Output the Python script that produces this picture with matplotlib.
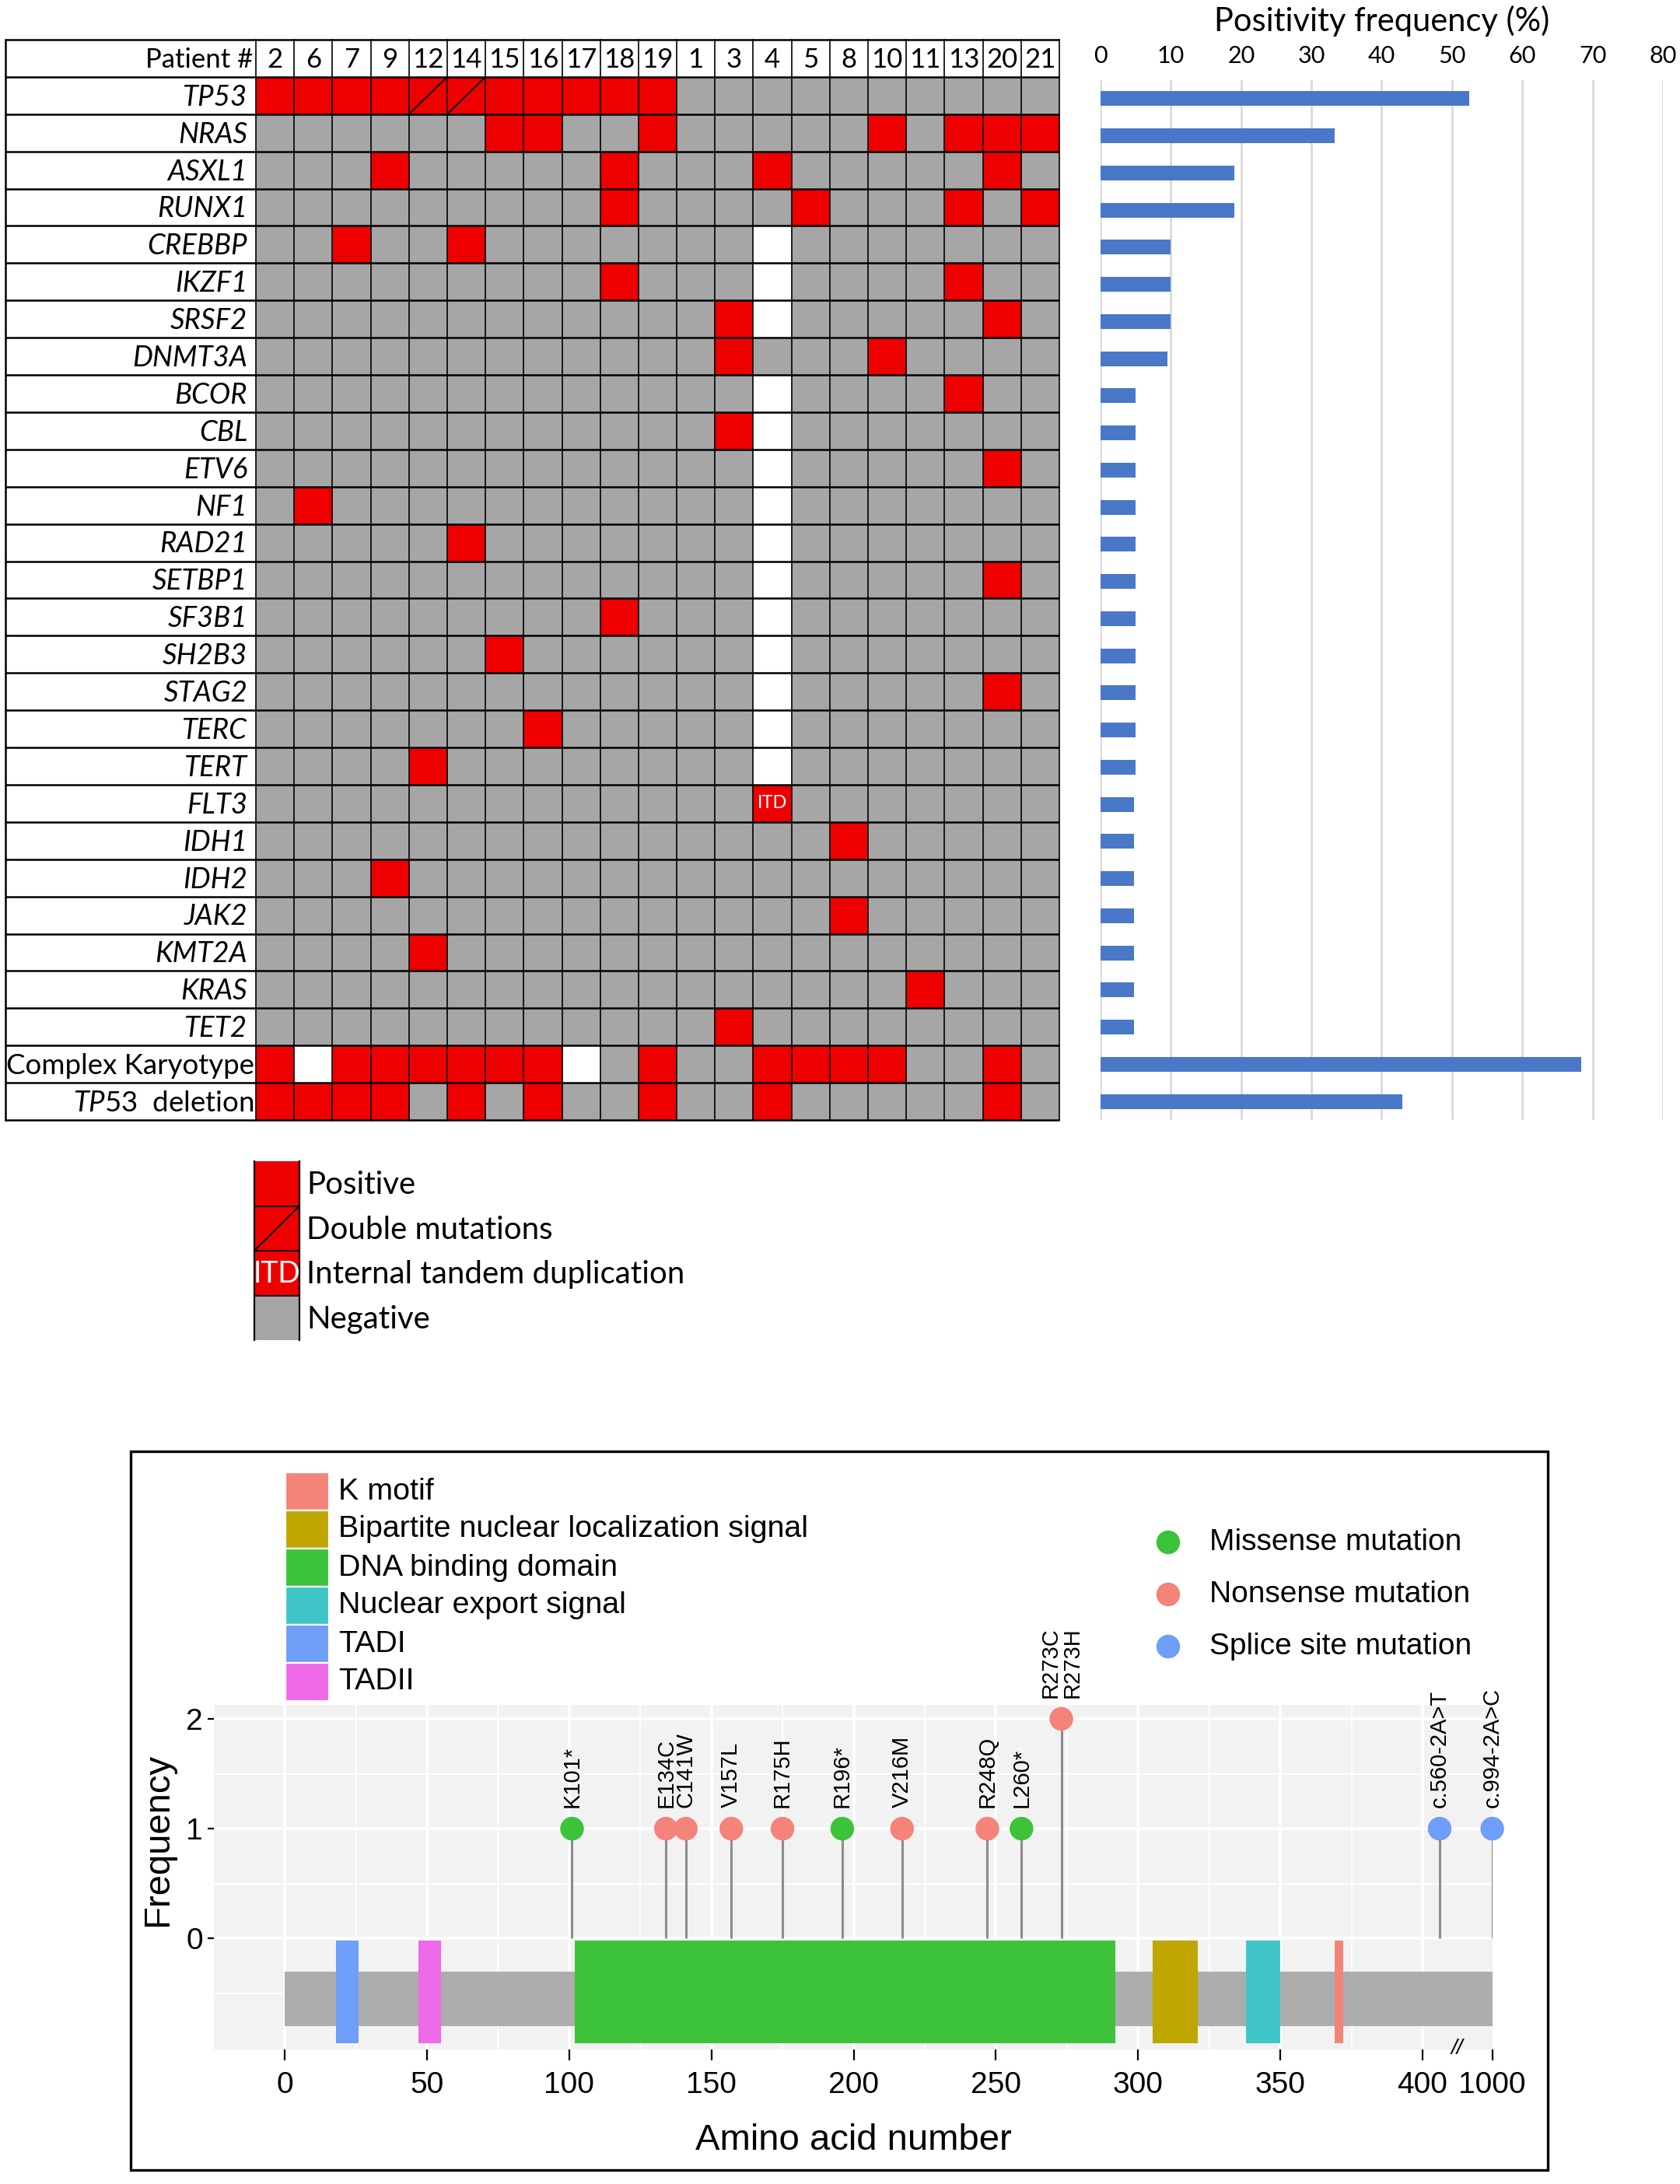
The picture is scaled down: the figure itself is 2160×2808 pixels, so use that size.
import matplotlib
matplotlib.use('Agg')
import matplotlib.pyplot as plt
from matplotlib.patches import Rectangle

# ---- data ----
patients = [2, 6, 7, 9, 12, 14, 15, 16, 17, 18, 19, 1, 3, 4, 5, 8, 10, 11, 13, 20, 21]
genes = ['TP53', 'NRAS', 'ASXL1', 'RUNX1', 'CREBBP', 'IKZF1', 'SRSF2', 'DNMT3A', 'BCOR', 'CBL',
         'ETV6', 'NF1', 'RAD21', 'SETBP1', 'SF3B1', 'SH2B3', 'STAG2', 'TERC', 'TERT', 'FLT3',
         'IDH1', 'IDH2', 'JAK2', 'KMT2A', 'KRAS', 'TET2', 'Complex Karyotype', 'TP53 deletion']
# X positive, / double mutation, I internal tandem dup., . negative, o not tested
status = [
    'XXXX//XXXXX..........',
    '......XX..X.....X.XXX',
    '...X.....X...X.....X.',
    '.........X....X...X.X',
    '..X..X.......o.......',
    '.........X...o....X..',
    '............Xo.....X.',
    '............X...X....',
    '.............o....X..',
    '............Xo.......',
    '.............o.....X.',
    '.X...........o.......',
    '.....X.......o.......',
    '.............o.....X.',
    '.........X...o.......',
    '......X......o.......',
    '.............o.....X.',
    '.......X.....o.......',
    '....X........o.......',
    '.............I.......',
    '...............X.....',
    '...X.................',
    '...............X.....',
    '....X................',
    '.................X...',
    '............X........',
    'XoXXXXXXo.X..XXXX..X.',
    'XXXX.X.X..X..X.....X.',
]
pos_freq = [52.4, 33.3, 19.0, 19.0, 10.0, 10.0, 10.0, 9.5, 5.0, 5.0,
            5.0, 5.0, 5.0, 5.0, 5.0, 5.0, 5.0, 5.0, 5.0, 4.8,
            4.8, 4.8, 4.8, 4.8, 4.8, 4.8, 68.4, 42.9]
freq_ticks = [0, 10, 20, 30, 40, 50, 60, 70, 80]

table_legend = ['Positive', 'Double mutations', 'Internal tandem duplication', 'Negative']
table_legend_kind = ['X', '/', 'I', '.']

# TP53 lollipop (x in plotted axis units, 1000 sits after the break)
mut_labels = ['K101*', 'E134C', 'C141W', 'V157L', 'R175H', 'R196*', 'V216M', 'R248Q', 'L260*',
              'R273C\nR273H', 'c.560-2A>T', 'c.994-2A>C']
mut_pos = [101, 134, 141, 157, 175, 196, 217, 247, 259, 273, 406, 424.5]
mut_freq = [1, 1, 1, 1, 1, 1, 1, 1, 1, 2, 1, 1]
mut_type = ['Missense', 'Nonsense', 'Nonsense', 'Nonsense', 'Nonsense', 'Missense', 'Nonsense',
            'Nonsense', 'Missense', 'Nonsense', 'Splice', 'Splice']

domain_names = ['K motif', 'Bipartite nuclear localization signal', 'DNA binding domain',
                'Nuclear export signal', 'TADI', 'TADII']
domain_start = [369, 305, 102, 338, 18, 47]
domain_end = [372, 321, 292, 350, 26, 55]
protein_end = 424.5
aa_ticks = [0, 50, 100, 150, 200, 250, 300, 350, 400, 424.5]
aa_ticklabels = ['0', '50', '100', '150', '200', '250', '300', '350', '400', '1000']
mut_legend = ['Missense mutation', 'Nonsense mutation', 'Splice site mutation']

# ---- styles ----
W, H, DPI = 2160, 2808, 200
RED = '#EE0000'
GREY = '#A6A6A6'
BLUE = '#4A78C8'
dom_colors = ['#F4837A', '#BFA600', '#3CC339', '#40C6C9', '#6F9EF8', '#EE6AE8']
type_colors = {'Missense': '#3CC339', 'Nonsense': '#F4837A', 'Splice': '#6F9EF8'}
TFONT = 'Lato'
GFONT = 'Liberation Sans'

plt.rcParams['mathtext.fontset'] = 'custom'
plt.rcParams['mathtext.it'] = 'Lato:italic'
plt.rcParams['mathtext.rm'] = 'Lato'


def px_box(x0, y0, x1, y1):
    return [x0 / W, 1 - y1 / H, (x1 - x0) / W, (y1 - y0) / H]


fig = plt.figure(figsize=(W / DPI, H / DPI), dpi=DPI)

# overlay in pixel coords for legends / frame
ov = fig.add_axes([0, 0, 1, 1])
ov.set_xlim(0, W)
ov.set_ylim(H, 0)
ov.axis('off')

# ---- heat table ----
ncol = len(patients)
nrow = len(genes)
lab_w = (329 - 7) / ((1362 - 329) / ncol)
ax = fig.add_axes(px_box(7, 51, 1362, 1440))
ax.set_xlim(-lab_w, ncol)
ax.set_ylim(nrow + 1, 0)
ax.axis('off')

for r, row in enumerate(status):
    y = r + 1
    for c, s in enumerate(row):
        if s == 'o':
            fc = 'white'
        elif s == '.':
            fc = GREY
        else:
            fc = RED
        ax.add_patch(Rectangle((c, y), 1, 1, facecolor=fc, edgecolor='none'))
        if s == '/':
            ax.plot([c, c + 1], [y + 1, y], color='black', lw=0.7)
        if s == 'I':
            ax.text(c + 0.5, y + 0.5, 'ITD', color='white', ha='center', va='center',
                    fontsize=8.5, family=TFONT)

for i in range(nrow + 2):
    ax.plot([-lab_w, ncol], [i, i], color='black', lw=0.9, clip_on=False,
            solid_capstyle='butt')
ax.plot([-lab_w, -lab_w], [0, nrow + 1], color='black', lw=0.9, clip_on=False)
for c in range(ncol + 1):
    ax.plot([c, c], [0, nrow + 1], color='black', lw=0.6, clip_on=False)

ax.text(-0.08, 0.55, 'Patient #', ha='right', va='center', fontsize=12.5, family=TFONT)
for c, p in enumerate(patients):
    ax.text(c + 0.5, 0.55, str(p), ha='center', va='center', fontsize=12.5, family=TFONT)
for r, g in enumerate(genes):
    y = r + 1.55
    if g == 'Complex Karyotype':
        ax.text(-0.05, y, g, ha='right', va='center', fontsize=13.2, family=TFONT)
    elif g == 'TP53 deletion':
        ax.text(-0.05, y, r'$\mathit{TP53}$  deletion', ha='right', va='center',
                fontsize=13.2, family=TFONT)
    else:
        ax.text(-0.22, y, g, ha='right', va='center', fontsize=13.2, family=TFONT,
                style='italic')

# ---- positivity frequency bars ----
axb = fig.add_axes(px_box(1415, 103, 2138, 1440))
axb.barh(range(nrow), pos_freq, height=0.4, color=BLUE, zorder=3)
axb.set_xlim(0, 80)
axb.set_ylim(nrow - 0.5, -0.5)
axb.set_xticks(freq_ticks)
axb.set_yticks([])
axb.xaxis.tick_top()
axb.tick_params(axis='x', length=0, pad=6, labelsize=11)
for lab in axb.get_xticklabels():
    lab.set_family(TFONT)
axb.grid(axis='x', color='#D9D9D9', lw=1.0, zorder=0)
for sp in axb.spines.values():
    sp.set_visible(False)
fig.text(1777 / W, 1 - 27 / H, 'Positivity frequency (%)', ha='center', va='center',
         fontsize=15, family=TFONT)

# ---- table legend ----
lx0, lx1, ly0, lh = 327, 385, 1493, 57.5
for k, (name, kind) in enumerate(zip(table_legend, table_legend_kind)):
    y0 = ly0 + k * lh
    fc = GREY if kind == '.' else RED
    ov.add_patch(Rectangle((lx0, y0), lx1 - lx0, lh, facecolor=fc, edgecolor='none'))
    if kind == '/':
        ov.plot([lx0, lx1], [y0 + lh, y0], color='black', lw=0.7)
    if kind == 'I':
        ov.text((lx0 + lx1) / 2, y0 + lh / 2 + 1, 'ITD', color='white', ha='center',
                va='center', fontsize=13.5, family=TFONT)
    if k > 0:
        ov.plot([lx0, lx1], [y0, y0], color='black', lw=0.7)
    ov.text(394, y0 + lh / 2 + 2, name, ha='left', va='center', fontsize=14.5, family=TFONT)
ov.plot([lx0, lx0], [ly0, ly0 + 4 * lh], color='black', lw=0.8)
ov.plot([lx1, lx1], [ly0, ly0 + 4 * lh], color='black', lw=0.8)

# ---- lollipop panel ----
ov.add_patch(Rectangle((168, 1866), 1990 - 168, 2790 - 1866, facecolor='none',
                       edgecolor='black', lw=1.2))

axp = fig.add_axes(px_box(275, 2192, 1919, 2635))
axp.set_facecolor('#F2F2F2')
axp.set_xlim(-24.9, 424.6)
axp.set_ylim(-1.01, 2.127)
for v in range(0, 401, 25):
    axp.axvline(v, color='white', lw=1.3 if v % 50 == 0 else 0.7, zorder=0)
for v in [0, 1, 2]:
    axp.axhline(v, color='white', lw=1.3, zorder=0)
for v in [-0.5, 0.5, 1.5]:
    axp.axhline(v, color='white', lw=0.7, zorder=0)

axp.bar(0, 0.5, width=protein_end, bottom=-0.8, align='edge', color='#ADADAD', zorder=1)
for s, e, col in zip(domain_start, domain_end, dom_colors):
    axp.bar(s, 0.93, width=e - s, bottom=-0.95, align='edge', color=col, zorder=2)

axp.vlines(mut_pos, 0, mut_freq, color='#8C8C8C', lw=1.1, zorder=3)
axp.scatter(mut_pos, mut_freq, s=120, c=[type_colors[t] for t in mut_type],
            edgecolors='none', zorder=4, clip_on=False)
for p, f, lab in zip(mut_pos, mut_freq, mut_labels):
    axp.text(p, f + 0.19, lab, rotation=90, ha='center', va='bottom', fontsize=10.5,
             family=GFONT, multialignment='left', linespacing=1.0, clip_on=False)

axp.set_xticks(aa_ticks)
axp.set_xticklabels(aa_ticklabels)
axp.set_yticks([0, 1, 2])
axp.tick_params(axis='x', length=5, width=0.8, pad=5, labelsize=14)
axp.tick_params(axis='y', length=3, width=0.8, pad=2, labelsize=14)
for lab in axp.get_xticklabels() + axp.get_yticklabels():
    lab.set_family(GFONT)
for sp in axp.spines.values():
    sp.set_visible(False)
axp.text(412, -1.0, '//', ha='center', va='center', fontsize=10, family=GFONT,
         style='italic', clip_on=False)

fig.text(1097 / W, 1 - 2752 / H, 'Amino acid number', ha='center', va='center',
         fontsize=17, family=GFONT)
fig.text(203 / W, 1 - 2365 / H, 'Frequency', ha='center', va='center', rotation=90,
         fontsize=17, family=GFONT)

# domain legend
for k, (name, col) in enumerate(zip(domain_names, dom_colors)):
    y0 = 1893 + k * 49
    ov.add_patch(Rectangle((367, y0), 56, 49, facecolor=col, edgecolor='white', lw=0.8))
    ov.text(435, y0 + 24.5, name, ha='left', va='center', fontsize=14.2, family=GFONT)

# mutation type legend
for k, (name, t) in enumerate(zip(mut_legend, ['Missense', 'Nonsense', 'Splice'])):
    y = 1983 + k * 67
    ov.scatter([1502], [y], s=120, color=type_colors[t], edgecolors='none')
    ov.text(1555, y, name, ha='left', va='center', fontsize=14, family=GFONT)

fig.savefig('out.png', dpi=DPI)
